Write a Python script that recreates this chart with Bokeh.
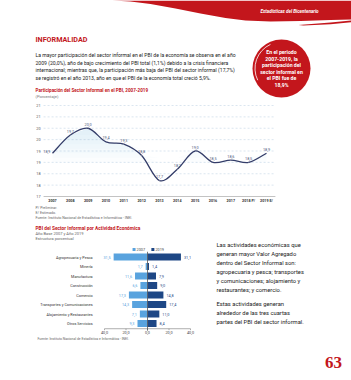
import numpy as np
from bokeh.plotting import figure
from bokeh.models import Range1d
from bokeh.core.properties import value
from bokeh.embed import file_html
from bokeh.resources import INLINE

W, H = 351, 380

# ---------------- data ----------------
years = ["2007", "2008", "2009", "2010", "2011", "2012", "2013", "2014",
         "2015", "2016", "2017", "2018 P/", "2019 E/"]
share = [18.9, 19.7, 20.0, 19.4, 19.3, 18.8, 17.7, 18.2, 19.0, 18.5, 18.6, 18.5, 18.9]
y_ticks = [17.0, 17.5, 18.0, 18.5, 19.0, 19.5, 20.0, 20.5, 21.0]
y_tick_labels = ["17", "18", "18", "19", "19", "20", "20", "21", "21"]

activities = ["Agropecuaria y Pesca", "Minería", "Manufactura", "Construcción",
              "Comercio", "Transportes y Comunicaciones",
              "Alojamiento y Restaurantes", "Otros Servicios"]
v2007 = [31.5, 1.7, 11.6, 6.6, 17.3, 14.3, 7.1, 9.3]
v2019 = [31.1, 1.4, 7.9, 9.0, 14.8, 17.4, 11.0, 8.4]
bar_ticks = [-40, -20, 0, 20, 40]
bar_tick_labels = ["40,0", "20,0", "0,0", "20,0", "40,0"]
series_names = ["2007", "2019"]

RED = "#c3161c"
LIGHT = "#59a3de"
DARK = "#1e4785"
LINEC = "#343d69"
FONT = value("Roboto")


def xr(p0, v0, p1, v1):
    s = (v1 - v0) / (p1 - p0)
    return Range1d(start=v0 - p0 * s, end=v0 + (W - p0) * s)


def yr(p0, v0, p1, v1):
    s = (v1 - v0) / (p1 - p0)
    return Range1d(start=v0 + (H - p0) * s, end=v0 - p0 * s)


p = figure(width=W, height=H, x_range=Range1d(0, W), y_range=Range1d(H, 0),
           x_axis_type=None, y_axis_type=None, min_border=0,
           toolbar_location=None, output_backend="svg")
p.outline_line_color = None
p.grid.visible = False
p.background_fill_color = "white"
p.border_fill_color = "white"

p.extra_x_ranges = {"lx": xr(52, 0, 266, len(years) - 1), "bx": xr(147, 0, 190, 40)}
p.extra_y_ranges = {"ly": yr(105, 21, 196, 17), "by": yr(256.5, 0, 323, 7)}

# ---------------- header decoration ----------------
wave_x = [112, 351, 351, 330, 300, 270, 245, 225, 200, 175, 150, 130, 112]
wave_y = [0, 0, 19, 19.5, 20.5, 21, 20, 17.5, 13, 8, 3.5, 1, 0]
p.patch(wave_x, wave_y, fill_color=RED, line_color=None)
sliver_x = [298, 330, 351, 351, 330, 303]
sliver_y = [24.5, 22, 20, 21.8, 23.8, 25]
p.patch(sliver_x, sliver_y, fill_color=RED, line_color=None)
p.text(x=[260], y=[11], text=["Estadísticas del Bicentenario"], text_font=FONT,
       text_font_size="4.6px", text_font_style="bold italic", text_color="white",
       text_baseline="middle")

p.text(x=[35], y=[39], text=["INFORMALIDAD"], text_font=FONT, text_font_size="7.2px",
       text_font_style="bold", text_color=RED, text_baseline="middle")

para = ["La mayor participación del sector informal en el PBI de la economía se observa en el año",
        "2009 (20,0%), año de bajo crecimiento del PBI total (1,1%) debido a la crisis financiera",
        "internacional; mientras que, la participación más baja del PBI del sector informal (17,7%)",
        "se registró en el año 2013, año en que el PBI de la economía total creció 5,9%."]
p.text(x=[35] * 4, y=[54.5, 62, 69.5, 77], text=para, text_font=FONT, text_font_size="5.1px",
       text_color="#222222", text_baseline="middle")

# circle call-out
p.scatter(x=[281], y=[68], marker="circle", size=58, fill_color=RED, line_color=None)
p.arc(x=[281], y=[68], radius=26.5, radius_units="screen", start_angle=2.0, end_angle=3.6,
      line_color="white", line_width=0.8)
circ = ["En el periodo", "2007-2019, la", "participación del", "sector informal en",
        "el PBI fue de", "18,9%"]
p.text(x=[281] * 6, y=[51.5, 58, 64.5, 71, 77.5, 84], text=circ, text_font=FONT,
       text_font_size="5.2px", text_font_style="bold", text_color="white",
       text_align="center", text_baseline="middle")

# ---------------- line chart ----------------
p.text(x=[35], y=[90], text=["Participación del Sector Informal en el PBI, 2007-2019"],
       text_font=FONT, text_font_size="4.6px", text_font_style="bold", text_color=RED,
       text_baseline="middle")
p.text(x=[35], y=[96], text=["(Porcentaje)"], text_font=FONT, text_font_size="4.2px",
       text_color="#777777", text_baseline="middle")

xi = np.arange(len(years), dtype=float)
yv = np.array(share)
n = len(years)

gx0 = [-0.5] * len(y_ticks)
gx1 = [n - 0.5] * len(y_ticks)
p.segment(x0=gx0[1:], y0=y_ticks[1:], x1=gx1[1:], y1=y_ticks[1:], line_color="#c3d5e6",
          line_width=0.6, line_dash="2 2", x_range_name="lx", y_range_name="ly")
p.segment(x0=gx0[:1], y0=y_ticks[:1], x1=gx1[:1], y1=y_ticks[:1], line_color="#9a9a9a",
          line_width=0.6, x_range_name="lx", y_range_name="ly")
p.text(x=gx0, y=y_ticks, text=y_tick_labels, x_offset=-3, text_align="right",
       text_baseline="middle", text_font=FONT, text_font_size="3.8px", text_color="#555555",
       x_range_name="lx", y_range_name="ly")
p.text(x=xi, y=[y_ticks[0]] * n, text=years, y_offset=2.5, text_align="center",
       text_baseline="top", text_font=FONT, text_font_size="3.7px", text_font_style="bold",
       text_color="#333333", x_range_name="lx", y_range_name="ly")

# gradient-like fill under the line
for L in np.arange(18.5, 20.01, 0.2):
    p.varea(x=xi, y1=np.maximum(yv, L), y2=np.full(n, L), fill_color="#a9cff0",
            fill_alpha=0.045, x_range_name="lx", y_range_name="ly")

# smooth curve (Catmull-Rom -> cubic bezier)
P = np.column_stack([xi, yv])
Pp = np.vstack([P[0], P, P[-1]])
c0 = P[:-1] + (Pp[2:-1] - Pp[:-3]) / 6.0
c1 = P[1:] - (Pp[3:] - Pp[1:-2]) / 6.0
p.bezier(x0=P[:-1, 0], y0=P[:-1, 1], x1=P[1:, 0], y1=P[1:, 1],
         cx0=c0[:, 0], cy0=c0[:, 1], cx1=c1[:, 0], cy1=c1[:, 1],
         line_color=LINEC, line_width=1.3, x_range_name="lx", y_range_name="ly")

lbl = [f"{v:.1f}".replace(".", ",") for v in share]
p.text(x=xi[:1], y=yv[:1], text=lbl[:1], x_offset=-2, text_align="right",
       text_baseline="bottom", text_font=FONT, text_font_size="3.8px", text_color="#4a5578",
       x_range_name="lx", y_range_name="ly")
p.text(x=xi[1:], y=yv[1:], text=lbl[1:], y_offset=-2.5, text_align="center",
       text_baseline="bottom", text_font=FONT, text_font_size="3.8px", text_color="#4a5578",
       x_range_name="lx", y_range_name="ly")

notes = ["P/ Preliminar.", "E/ Estimado.",
         "Fuente: Instituto Nacional de Estadística e Informática - INEI."]
p.text(x=[35] * 3, y=[207.5, 212.5, 217.5], text=notes, text_font=FONT,
       text_font_size="3.6px", text_color="#666666", text_baseline="middle")

# ---------------- bar chart ----------------
p.text(x=[35], y=[227.5], text=["PBI del Sector Informal por Actividad Económica"],
       text_font=FONT, text_font_size="4.8px", text_font_style="bold", text_color=RED,
       text_baseline="middle")
p.text(x=[35, 35], y=[232.8, 238.2], text=["Año Base 2007 y Año 2019", "Estructura porcentual"],
       text_font=FONT, text_font_size="4px", text_color="#666666", text_baseline="middle")

nb = len(activities)
yj = np.arange(nb, dtype=float)
a07 = np.array(v2007)
a19 = np.array(v2019)

# legend
p.scatter(x=[-12.5, 5.0], y=[-0.8, -0.8], marker="square", size=3,
          fill_color=[LIGHT, DARK], line_color=None, x_range_name="bx", y_range_name="by")
p.text(x=[-12.5, 5.0], y=[-0.8, -0.8], text=series_names, x_offset=2.5,
       text_baseline="middle", text_font=FONT, text_font_size="3.8px", text_color="#444444",
       x_range_name="bx", y_range_name="by")

p.hbar(y=yj, left=-a07, right=0, height=0.72, fill_color=LIGHT, line_color=None,
       x_range_name="bx", y_range_name="by")
p.hbar(y=yj, left=0, right=a19, height=0.72, fill_color=DARK, line_color=None,
       x_range_name="bx", y_range_name="by")

p.text(x=-a07, y=yj, text=[f"{v:.1f}".replace(".", ",") for v in v2007], x_offset=-3,
       text_align="right", text_baseline="middle", text_font=FONT, text_font_size="3.8px",
       text_color=LIGHT, x_range_name="bx", y_range_name="by")
p.text(x=a19, y=yj, text=[f"{v:.1f}".replace(".", ",") for v in v2019], x_offset=3,
       text_align="left", text_baseline="middle", text_font=FONT, text_font_size="3.8px",
       text_color=DARK, x_range_name="bx", y_range_name="by")
p.text(x=[-51] * nb, y=yj, text=activities, text_align="right", text_baseline="middle",
       text_font=FONT, text_font_size="3.8px", text_color="#333333",
       x_range_name="bx", y_range_name="by")

axis_y = nb - 0.45
p.segment(x0=[bar_ticks[0]], y0=[axis_y], x1=[bar_ticks[-1]], y1=[axis_y],
          line_color="#777777", line_width=0.6, x_range_name="bx", y_range_name="by")
p.segment(x0=bar_ticks, y0=[axis_y] * len(bar_ticks), x1=bar_ticks,
          y1=[axis_y + 0.15] * len(bar_ticks), line_color="#777777", line_width=0.6,
          x_range_name="bx", y_range_name="by")
p.segment(x0=[0], y0=[-0.55], x1=[0], y1=[axis_y + 0.2], line_color="#555555",
          line_width=0.8, x_range_name="bx", y_range_name="by")
p.text(x=bar_ticks, y=[axis_y] * len(bar_ticks), text=bar_tick_labels, y_offset=2.5,
       text_align="center", text_baseline="top", text_font=FONT, text_font_size="3.8px",
       text_color="#444444", x_range_name="bx", y_range_name="by")

p.text(x=[37], y=[338.5], text=["Fuente: Instituto Nacional de Estadística e Informática - INEI."],
       text_font=FONT, text_font_size="3.4px", text_color="#666666", text_baseline="middle")

side = ["Las actividades económicas que", "generan mayor Valor Agregado",
        "dentro del Sector Informal son:", "agropecuaria y pesca; transportes",
        "y comunicaciones; alojamiento y", "restaurantes; y comercio."]
side2 = ["Estas actividades generan", "alrededor de las tres cuartas",
         "partes del PBI del sector informal."]
p.text(x=[216] * 6, y=[244, 253, 262, 271, 280, 289], text=side, text_font=FONT,
       text_font_size="5.8px", text_color="#222222", text_baseline="middle")
p.text(x=[216] * 3, y=[303.5, 312.5, 321.5], text=side2, text_font=FONT,
       text_font_size="5.8px", text_color="#222222", text_baseline="middle")

p.text(x=[333], y=[362], text=["63"], text_font=value("Liberation Serif"),
       text_font_size="17px", text_font_style="bold", text_color=RED,
       text_align="center", text_baseline="middle")

open("out.html", "w").write(file_html(p, INLINE))
